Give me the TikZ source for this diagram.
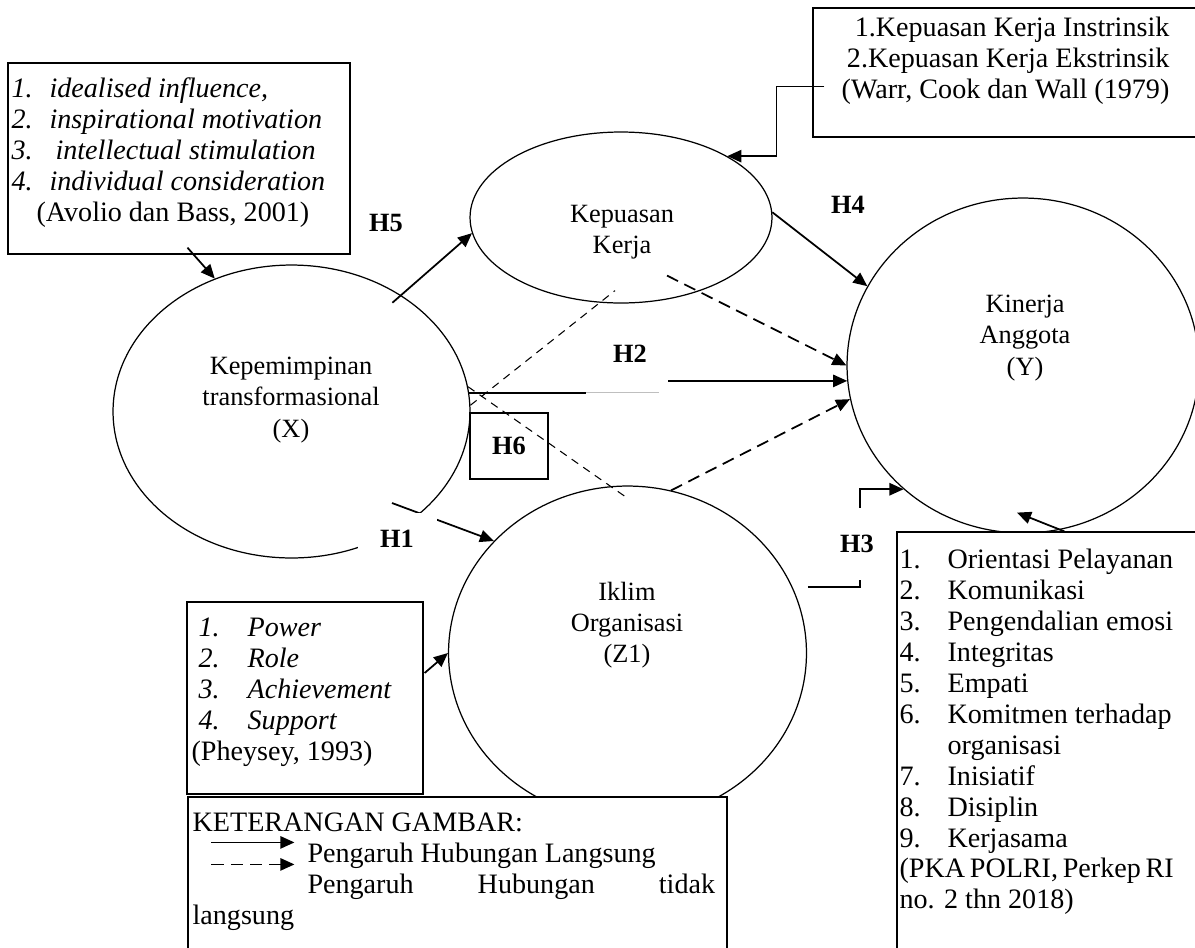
\documentclass[tikz,border=0pt]{standalone}
\usepackage{fontspec}
\setmainfont{Liberation Serif}
\usetikzlibrary{shapes.geometric,arrows.meta}
\newcommand{\numit}[3]{\makebox[#1][l]{#2}#3}

\begin{document}
\begin{tikzpicture}[x=0.02cm, y=-0.02cm, line width=0.7pt,
  latent/.style={ellipse, draw, inner sep=0pt},
  dimbox/.style={draw, rectangle, inner sep=0pt},
  lbl/.style={inner sep=0pt, align=center, font=\fontsize{15}{17.8}\selectfont},
  txt/.style={inner sep=0pt, align=left, font=\fontsize{16}{17.6}\selectfont},
  hyp/.style={inner sep=0pt, font=\fontsize{15}{17}\selectfont\bfseries},
  arr/.style={line width=1pt, -{Triangle[length=8pt,width=7pt]}},
  darr/.style={arr, dash pattern=on 7pt off 4pt},
  dline/.style={line width=0.6pt, dash pattern=on 4.5pt off 3.5pt}]

\useasboundingbox (0,0) rectangle (1195,947);

% latent variables
\node[latent, minimum width=7.14cm, minimum height=5.86cm] (X)  at (291.5,411.5) {};
\node[latent, minimum width=6.04cm, minimum height=3.42cm] (KK) at (621,217.5) {};
\node[latent, minimum width=7.04cm, minimum height=6.70cm] (Y)  at (1023,365.5) {};
\node[latent, minimum width=7.16cm, minimum height=6.68cm] (Z)  at (627.5,653) {};

\node[lbl] (Xlbl)  at (291,400)  {Kepemimpinan\\transformasional\\(X)};
\node[lbl] (KKlbl) at (622,232)  {Kepuasan\\Kerja};
\node[lbl] (Ylbl)  at (1025,338) {Kinerja\\Anggota\\(Y)};
\node[lbl] (Zlbl)  at (627,625)  {Iklim\\Organisasi\\(Z1)};

% indicator boxes (top)
\node[dimbox, minimum width=6.84cm, minimum height=3.82cm] (dimX)  at (179,158.5) {};
\node[dimbox, minimum width=7.84cm, minimum height=2.58cm] (dimKK) at (1009,72.5) {};
\node[dimbox, minimum width=4.72cm, minimum height=3.84cm] (dimZ)  at (305,698) {};

\draw[arr] ([shift={(180,-7)}]dimX.south west) -- (X.120);
\draw[arr] ([shift={(12,79)}]dimKK.north west) -- ++(-48,0) |- (KK.30);
\draw[arr] ([shift={(1,-25)}]dimZ.east) -- (Z.180);

% direct paths
\draw[arr] ([shift={(-8,8)}]X.47) -- (KK.186);
\draw[arr] (KK.2) -- (Y.153);
\draw[line width=1pt] (X.6) -- ++(117,0) coordinate (h2m);
\draw[black!25] (h2m) -- ++(73,0);
\coordinate (h2s) at (668,381);
\draw[arr] (h2s) -- (Y.185);
\coordinate (h1s) at (392,503);
\draw[arr] (h1s) -- (Z.140);
\draw[arr] ([shift={(13,-5)}]Z.20) -- ++(52,0) |- (Y.226);

% indirect paths
\draw[dline] (X.2) -- ([shift={(-6,-13)}]KK.south);
\draw[dline] (X.8) -- ([shift={(-2.5,11)}]Z.north);
\draw[darr] ([shift={(46,-28)}]KK.south) -- (Y.180);
\draw[darr] (Z.75) -- (Y.191);

% hypotheses
\node[hyp, fill=white, minimum width=1.58cm, minimum height=1.04cm] (H1) at (397,539) {H1};
\node[hyp, fill=white, minimum width=1.12cm, minimum height=1.44cm] (H3) at (857,544) {H3};
\node[hyp] (H5) at (386,223) {H5};
\node[hyp] (H4) at (848,205) {H4};
\node[hyp] (H2) at (630,354) {H2};
\node[hyp, draw, line width=0.7pt, minimum width=1.56cm, minimum height=1.32cm] (H6) at (509,446) {H6};

% indicator box (bottom right) and legend
\node[dimbox, fill=white, minimum width=6.16cm, minimum height=8.56cm] (dimY) at (1051,746) {};
\draw[arr] ([shift={(168,0)}]dimY.north west) -- ([shift={(-6,-21)}]Y.south);
\node[dimbox, fill=white, minimum width=10.78cm, minimum height=3.2cm] (leg) at (457.5,877) {};
\draw[arr]  ([shift={(24,46)}]leg.north west) -- ++(83,0);
\draw[darr] ([shift={(24,68)}]leg.north west) -- ++(83,0);

% box texts
\node[txt, anchor=west] (dimXtxt) at (11,152.5) {%
  \numit{21.6pt}{\textit{1.}}{\textit{idealised influence,}}\\
  \numit{21.6pt}{\textit{2.}}{\textit{inspirational motivation}}\\
  \numit{21.6pt}{\textit{3.}}{\hspace*{3.4pt}\textit{intellectual stimulation}}\\
  \numit{21.6pt}{\textit{4.}}{\textit{individual consideration}}\\
  \hspace*{14.2pt}(Avolio dan Bass, 2001)};
\node[txt, anchor=east, align=right] (dimKKtxt) at (1170,61) {%
  1.Kepuasan Kerja Instrinsik\\
  2.Kepuasan Kerja Ekstrinsik\\
  (Warr, Cook dan Wall (1979)};
\node[txt, anchor=west] (dimZtxt) at (191,692) {%
  \hspace*{4pt}\numit{27.9pt}{\textit{1.}}{\textit{Power}}\\
  \hspace*{4pt}\numit{27.9pt}{\textit{2.}}{\textit{Role}}\\
  \hspace*{4pt}\numit{27.9pt}{\textit{3.}}{\textit{Achievement}}\\
  \hspace*{4pt}\numit{27.9pt}{\textit{4.}}{\textit{Support}}\\
  (Pheysey, 1993)};
\node[txt, anchor=west] (dimYtxt) at (899,732) {%
  \numit{27.3pt}{1.}{Orientasi Pelayanan}\\
  \numit{27.3pt}{2.}{Komunikasi}\\
  \numit{27.3pt}{3.}{Pengendalian emosi}\\
  \numit{27.3pt}{4.}{Integritas}\\
  \numit{27.3pt}{5.}{Empati}\\
  \numit{27.3pt}{6.}{Komitmen terhadap}\\
  \hspace*{27.3pt}organisasi\\
  \numit{27.3pt}{7.}{Inisiatif}\\
  \numit{27.3pt}{8.}{Disiplin}\\
  \numit{27.3pt}{9.}{Kerjasama}\\
  \makebox[156pt][s]{(PKA\hfill POLRI,\hfill Perkep\hfill RI}\\
  no. 2 thn 2018)};
\node[txt, anchor=west] (legtxt) at (192,871.5) {%
  KETERANGAN GAMBAR:\\
  \hspace*{65.4pt}Pengaruh Hubungan Langsung\\
  \hspace*{65.4pt}\makebox[232pt][s]{Pengaruh\hfill Hubungan\hfill tidak}\\
  langsung};

\end{tikzpicture}
\end{document}
